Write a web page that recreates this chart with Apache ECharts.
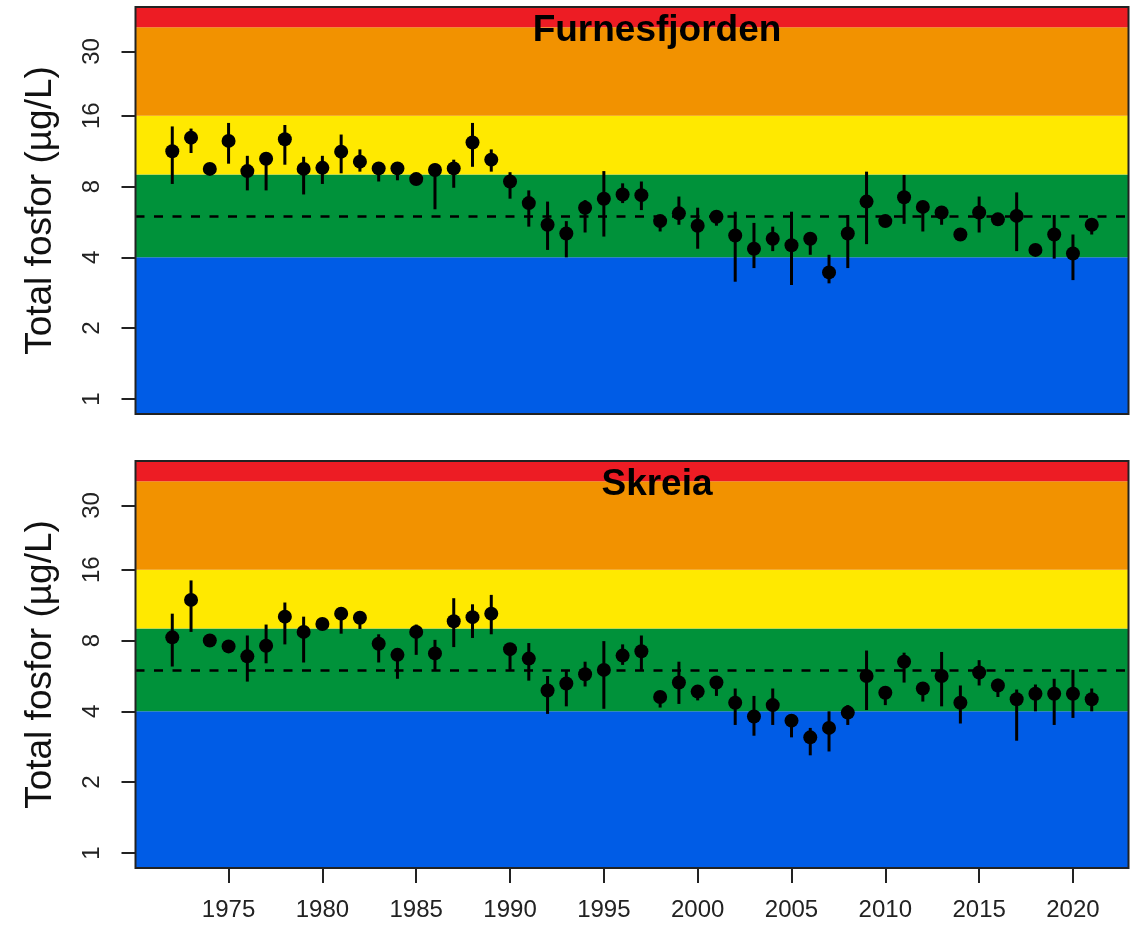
<!DOCTYPE html>
<html>
<head>
<meta charset="utf-8">
<title>Total fosfor – Furnesfjorden og Skreia</title>
<script src="https://cdn.jsdelivr.net/npm/echarts@6/dist/echarts.min.js"></script>
<style>
  html, body { margin: 0; padding: 0; background: #fff; }
  #chart { width: 1140px; height: 927px; }
</style>
</head>
<body>
<div id="chart"></div>
<script>
// Years sampled (one mean per season)
const years = [
  1972, 1973, 1974, 1975, 1976, 1977, 1978, 1979, 1980, 1981,
  1982, 1983, 1984, 1985, 1986, 1987, 1988, 1989, 1990, 1991,
  1992, 1993, 1994, 1995, 1996, 1997, 1998, 1999, 2000, 2001,
  2002, 2003, 2004, 2005, 2006, 2007, 2008, 2009, 2010, 2011,
  2012, 2013, 2014, 2015, 2016, 2017, 2018, 2019, 2020, 2021
];

// Furnesfjorden: mean total phosphorus (µg/L) with lower / upper range
const furnesMean = [
  11.3, 12.9, 9.5, 12.5, 9.3, 10.5, 12.7, 9.5, 9.6, 11.25,
  10.2, 9.55, 9.55, 8.6, 9.4, 9.55, 12.3, 10.4, 8.4, 6.8,
  5.5, 5.05, 6.5, 7.1, 7.4, 7.35, 5.7, 6.15, 5.45, 5.95,
  4.95, 4.35, 4.8, 4.5, 4.8, 3.45, 5.05, 6.9, 5.7, 7.2,
  6.55, 6.2, 5.0, 6.2, 5.8, 6.0, 4.3, 5.0, 4.15, 5.5
];
const furnesLow = [
  8.2, 11.1, 9.5, 10.0, 7.7, 7.7, 9.9, 7.4, 8.2, 9.1,
  9.25, 8.4, 8.5, 8.6, 6.4, 7.9, 9.7, 9.25, 7.1, 5.4,
  4.3, 4.0, 5.1, 4.9, 6.8, 6.35, 5.15, 5.5, 4.35, 5.45,
  3.15, 3.6, 4.25, 3.05, 4.1, 3.1, 3.6, 4.55, 5.7, 5.55,
  5.15, 5.5, 5.0, 5.1, 5.8, 4.25, 4.3, 3.95, 3.2, 5.0
];
const furnesHigh = [
  14.4, 14.1, 9.5, 14.9, 10.8, 10.9, 14.6, 10.7, 10.8, 13.3,
  11.5, 10.0, 10.0, 8.6, 10.0, 10.4, 14.9, 11.5, 9.2, 7.7,
  6.9, 5.7, 7.0, 9.3, 8.25, 8.4, 6.0, 7.25, 6.5, 6.25,
  6.25, 5.6, 5.4, 6.25, 5.05, 4.1, 6.05, 9.25, 5.7, 8.95,
  6.9, 6.55, 5.0, 7.25, 5.8, 7.55, 4.55, 6.05, 5.0, 5.5
];

// Skreia: mean total phosphorus (µg/L) with lower / upper range
const skreiaMean = [
  8.25, 11.9, 8.0, 7.55, 6.85, 7.6, 10.1, 8.7, 9.4, 10.4,
  10.0, 7.75, 6.95, 8.7, 7.05, 9.65, 10.05, 10.4, 7.35, 6.7,
  4.9, 5.25, 5.75, 6.0, 6.9, 7.2, 4.6, 5.3, 4.85, 5.3,
  4.35, 3.8, 4.25, 3.65, 3.1, 3.4, 3.95, 5.65, 4.8, 6.5,
  5.0, 5.65, 4.35, 5.85, 5.15, 4.5, 4.75, 4.75, 4.75, 4.5
];
const skreiaLow = [
  6.2, 8.7, 8.0, 7.55, 5.35, 6.4, 7.7, 6.45, 9.4, 8.55,
  8.95, 6.45, 5.5, 6.95, 6.0, 7.5, 8.2, 8.5, 6.0, 5.4,
  3.9, 4.2, 5.1, 4.1, 6.3, 6.0, 4.15, 4.3, 4.45, 4.65,
  3.5, 3.15, 3.5, 3.1, 2.6, 2.7, 3.5, 4.05, 4.25, 5.3,
  4.4, 4.2, 3.55, 5.15, 4.6, 3.0, 4.0, 3.5, 3.75, 4.0
];
const skreiaHigh = [
  10.4, 14.4, 8.0, 7.55, 8.4, 9.35, 11.6, 10.1, 9.4, 10.4,
  10.0, 8.5, 6.95, 9.35, 8.05, 12.1, 11.4, 12.5, 7.35, 7.8,
  5.65, 6.0, 6.5, 7.95, 7.7, 8.4, 4.6, 6.5, 4.85, 5.3,
  5.0, 4.65, 5.0, 3.65, 3.4, 4.0, 4.25, 7.25, 5.0, 7.1,
  5.0, 7.15, 5.15, 6.6, 5.5, 4.95, 5.2, 5.5, 6.0, 5.0
];

// Condition class limits (µg/L) and the dashed reference level
const classLimits = [4, 9, 16, 38];
const classColors = ['#005CE6', '#00923A', '#FFE900', '#F29200', '#ED1C24'];
const referenceLevel = 6;

// Axis ranges and ticks
const yTicks = [1, 2, 4, 8, 16, 30];
const xTicks = [1975, 1980, 1985, 1990, 1995, 2000, 2005, 2010, 2015, 2020];
const yRange = [0.8631, 46.34];
const xRange = [1970.04, 2022.96];

const panelTitles = ['Furnesfjorden', 'Skreia'];
const yAxisTitle = 'Total fosfor (µg/L)';

const FONT = '"Liberation Sans", Arial, Helvetica, sans-serif';

// Build band ranges from the class limits, closed off by the axis range
const bandEdges = [yRange[0]].concat(classLimits, [yRange[1]]);
const bandData = [];
for (let i = 0; i < bandEdges.length - 1; i++) {
  bandData.push([bandEdges[i], bandEdges[i + 1]]);
}

function zipRange(lo, hi) {
  return years.map((y, i) => [y, lo[i], hi[i]]);
}
function zipMean(m) {
  return years.map((y, i) => [y, m[i]]);
}

const panels = [
  { mean: furnesMean, low: furnesLow, high: furnesHigh },
  { mean: skreiaMean, low: skreiaLow, high: skreiaHigh }
];

const gridTops = [7, 461];
const grids = gridTops.map(t => ({
  left: 135.5, top: t, width: 993, height: 407,
  show: true, z: 10,
  backgroundColor: 'transparent',
  borderColor: '#222', borderWidth: 2
}));

const xAxes = panels.map((p, i) => ({
  type: 'value', gridIndex: i,
  min: xRange[0], max: xRange[1],
  splitLine: { show: false },
  axisLine: { show: false },
  axisTick: {
    show: i === 1, length: 15, customValues: xTicks,
    lineStyle: { color: '#222', width: 2 }
  },
  axisLabel: {
    show: i === 1, customValues: xTicks, margin: 30,
    fontSize: 24, color: '#222', fontFamily: FONT,
    formatter: v => String(Math.round(v))
  }
}));

const yAxes = panels.map((p, i) => ({
  type: 'log', logBase: 2, gridIndex: i,
  min: yRange[0], max: yRange[1],
  splitLine: { show: false },
  axisLine: { show: false },
  axisTick: {
    show: true, length: 14, customValues: yTicks,
    lineStyle: { color: '#222', width: 2 }
  },
  axisLabel: {
    customValues: yTicks, rotate: 90, margin: 31,
    fontSize: 24, color: '#222', fontFamily: FONT,
    formatter: v => String(Math.round(v))
  },
  name: yAxisTitle, nameLocation: 'middle', nameGap: 76,
  nameTextStyle: { fontSize: 37, color: '#111', fontFamily: FONT }
}));

const series = [];
panels.forEach((p, i) => {
  // coloured condition classes
  series.push({
    type: 'custom', xAxisIndex: i, yAxisIndex: i, z: 1, silent: true,
    data: bandData,
    encode: { y: [0, 1] },
    renderItem: (params, api) => {
      const cs = params.coordSys;
      const yLo = api.coord([xRange[0], api.value(0)])[1];
      const yHi = api.coord([xRange[0], api.value(1)])[1];
      return {
        type: 'rect',
        shape: { x: cs.x, y: yHi, width: cs.width, height: yLo - yHi },
        style: { fill: classColors[params.dataIndex] }
      };
    }
  });
  // range whiskers + reference line
  series.push({
    type: 'custom', xAxisIndex: i, yAxisIndex: i, z: 3, silent: true,
    data: zipRange(p.low, p.high),
    encode: { x: 0, y: [1, 2] },
    renderItem: (params, api) => {
      const a = api.coord([api.value(0), api.value(1)]);
      const b = api.coord([api.value(0), api.value(2)]);
      return {
        type: 'line',
        shape: { x1: a[0], y1: a[1], x2: b[0], y2: b[1] },
        style: { stroke: '#000', lineWidth: 3 }
      };
    },
    markLine: {
      silent: true, symbol: 'none', animation: false,
      label: { show: false },
      lineStyle: { color: '#000', width: 2.5, type: [9, 9.5], opacity: 1 },
      data: [{ yAxis: referenceLevel }]
    }
  });
  // annual means
  series.push({
    type: 'scatter', xAxisIndex: i, yAxisIndex: i, z: 4, silent: true,
    data: zipMean(p.mean),
    symbol: 'circle', symbolSize: 14,
    itemStyle: { color: '#000', opacity: 1 }
  });
});

const titles = panelTitles.map((t, i) => ({
  text: t, left: 657, top: gridTops[i] + 5, textAlign: 'center', padding: 0,
  textStyle: { fontSize: 37, fontWeight: 'bold', color: '#000', fontFamily: FONT }
}));

const chart = echarts.init(document.getElementById('chart'), null, { renderer: 'canvas' });
chart.setOption({
  animation: false,
  backgroundColor: '#fff',
  title: titles,
  grid: grids,
  xAxis: xAxes,
  yAxis: yAxes,
  series: series
});
</script>
</body>
</html>
